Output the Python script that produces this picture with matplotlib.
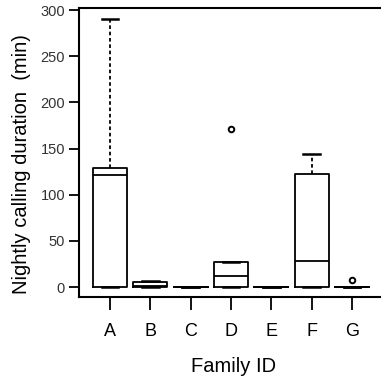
import matplotlib.pyplot as plt

plt.rcParams['font.family'] = ['Liberation Sans', 'DejaVu Sans']

# ---- data (minutes) ----
families = ["A", "B", "C", "D", "E", "F", "G"]
q1 = [0, 0, 0, 0, 0, 0, 0]
med = [121, 1, 0, 12, 0, 28, 0]
q3 = [129, 5, 0, 27, 0, 122, 0]
whislo = [0, 0, 0, 0, 0, 0, 0]
whishi = [290, 6, 0, 27, 0, 144, 0]
fliers = [[], [], [], [171], [], [], [8]]

stats = []
for i, name in enumerate(families):
    stats.append(dict(label=name, q1=q1[i], med=med[i], q3=q3[i],
                      whislo=whislo[i], whishi=whishi[i], fliers=fliers[i]))

fig = plt.figure(figsize=(3.81, 3.78), dpi=100)
ax = fig.add_axes([79 / 381, 81 / 378, 310 / 381, 289 / 378])

lw = 1.3
ax.bxp(stats, positions=range(1, len(families) + 1), widths=0.84,
       capwidths=0.42, showfliers=True,
       boxprops=dict(color='black', linewidth=lw),
       medianprops=dict(color='black', linewidth=lw),
       whiskerprops=dict(color='black', linewidth=lw, linestyle=(0, (2, 1.5))),
       capprops=dict(color='black', linewidth=1.8),
       flierprops=dict(marker='o', markersize=4, markerfacecolor='white',
                       markeredgecolor='black', markeredgewidth=1.4))

ax.set_xlim(0.231, 7.918)
ax.set_ylim(-10.8, 302.2)
ax.set_yticks([0, 50, 100, 150, 200, 250, 300])

ax.spines['right'].set_visible(False)
for s in ['left', 'bottom', 'top']:
    ax.spines[s].set_linewidth(1.5)

ax.tick_params(axis='y', direction='out', length=7, width=1.3, pad=3,
               labelsize=10.5, labelcolor='#333333')
ax.tick_params(axis='x', direction='out', length=9, width=1.3, pad=10,
               labelsize=13)

ax.set_xlabel("Family ID", fontsize=14.5, labelpad=12)
ax.set_ylabel("Nightly calling duration  (min)", fontsize=14.5, va='center')
ax.yaxis.set_label_coords(-0.184, 0.46)

fig.savefig("out.png", dpi=100)
